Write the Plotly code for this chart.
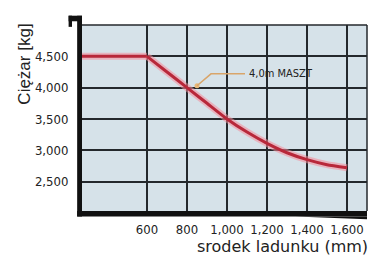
import plotly.graph_objects as go

flat_x = [275, 600]
flat_y = [4500, 4500]
curve_x = [600, 700, 800, 900, 1000, 1100, 1200, 1300, 1400, 1500, 1600]
curve_y = [4500, 4250, 4000, 3750, 3500, 3290, 3110, 2960, 2850, 2770, 2720]
x_ticks = [600, 800, 1000, 1200, 1400, 1600]
y_ticks = [2500, 3000, 3500, 4000, 4500]
y_labels = ["2,500", "3,000", "3,500", "4,000", "4,500"]
label_text = "4,0m MASZT"
label_point = (850, 4030)

FONT = "DejaVu Sans Condensed, Liberation Sans Narrow, sans-serif"

fig = go.Figure()
for xs, ys, shp in [(flat_x, flat_y, "linear"), (curve_x, curve_y, "spline")]:
    fig.add_trace(go.Scatter(x=xs, y=ys, mode="lines",
                             line=dict(color="rgba(245,140,155,0.55)", width=7, shape=shp, smoothing=0.5),
                             hoverinfo="skip", showlegend=False))
    fig.add_trace(go.Scatter(x=xs, y=ys, mode="lines",
                             line=dict(color="#b8283a", width=3, shape=shp, smoothing=0.5),
                             showlegend=False))

fig.update_layout(
    width=388, height=274,
    margin=dict(l=82, r=21, t=25, b=63),
    paper_bgcolor="white",
    plot_bgcolor="#d6e2e9",
    showlegend=False,
    font=dict(family=FONT, color="#222", size=12),
    xaxis=dict(range=[275, 1700], tickvals=x_ticks,
               ticktext=[f"{v:,}" for v in x_ticks],
               showgrid=True, gridcolor="#24282c", gridwidth=1.5,
               zeroline=False, showline=False, ticks="outside", ticklen=6,
               tickcolor="rgba(0,0,0,0)", tickfont=dict(size=13, family=FONT)),
    yaxis=dict(range=[2030, 5000], tickvals=y_ticks, ticktext=y_labels,
               showgrid=True, gridcolor="#24282c", gridwidth=1.5,
               zeroline=False, showline=False, ticks="outside", ticklen=10,
               tickcolor="rgba(0,0,0,0)", tickfont=dict(size=13, family=FONT)),
)

# borders
fig.add_shape(type="line", xref="paper", yref="paper", x0=0, x1=1, y0=1, y1=1,
              line=dict(color="#24282c", width=1.5))
fig.add_shape(type="line", xref="paper", yref="paper", x0=1, x1=1, y0=0, y1=1,
              line=dict(color="#24282c", width=1.5))
# thick black axes
fig.add_shape(type="rect", xref="paper", yref="paper", x0=-0.017, x1=0.0, y0=-0.03, y1=1.05,
              fillcolor="#111", line=dict(width=0))
fig.add_shape(type="rect", xref="paper", yref="paper", x0=-0.047, x1=0.0, y0=1.02, y1=1.05,
              fillcolor="#111", line=dict(width=0))
fig.add_shape(type="rect", xref="paper", yref="paper", x0=-0.047, x1=-0.035, y0=0.99, y1=1.05,
              fillcolor="#111", line=dict(width=0))
fig.add_shape(type="path", xref="paper", yref="paper",
              path="M -0.017,-0.03 L 1.0,-0.03 L 1.0,0.0 L -0.017,0.0 Z",
              fillcolor="#111", line=dict(width=0))
fig.add_shape(type="path", xref="paper", yref="paper",
              path="M 0.75,-0.03 L 1.0,-0.045 L 1.0,-0.03 Z",
              fillcolor="#111", line=dict(width=0))

# annotation leader
fig.add_shape(type="path", xref="x", yref="y",
              path=f"M {label_point[0]},{label_point[1]} L 920,4220 L 1090,4220",
              line=dict(color="#d9a56a", width=1.5))
fig.add_trace(go.Scatter(x=[label_point[0]], y=[label_point[1]], mode="markers",
                         marker=dict(size=5, color="#e8b878", line=dict(width=0)),
                         hoverinfo="skip", showlegend=False))
fig.add_annotation(x=1100, y=4220, xref="x", yref="y", text=label_text, showarrow=False,
                   xanchor="left", font=dict(size=11, family=FONT, color="#222"))

fig.add_annotation(xref="paper", yref="paper", x=-0.205, y=0.79, xanchor="center", yanchor="middle",
                   text="Ciężar [kg]", showarrow=False, textangle=-90,
                   font=dict(size=17, family="Liberation Sans, Arial, sans-serif", color="#222"))

fig.add_annotation(xref="paper", yref="paper", x=1.01, y=-0.19, xanchor="right", yanchor="middle",
                   text="srodek ladunku (mm)", showarrow=False,
                   font=dict(size=16, family="DejaVu Sans, Verdana, sans-serif", color="#222"))

fig.write_html("out.html")
